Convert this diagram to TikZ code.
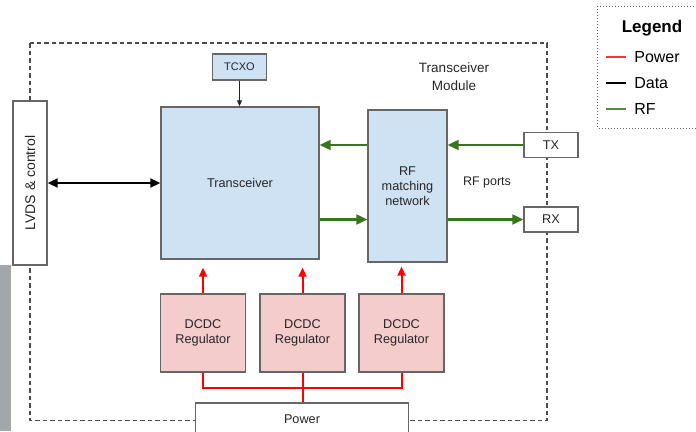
\documentclass[tikz,border=0pt]{standalone}
\usepackage{fontspec}
\setmainfont{Liberation Sans}
\usepackage{graphicx}
\usetikzlibrary{arrows.meta}
\definecolor{bleu}{HTML}{CFE2F3}
\definecolor{rose}{HTML}{F4CCCC}
\definecolor{bord}{HTML}{666666}
\definecolor{vert}{HTML}{38761D}
\definecolor{barre}{HTML}{A3A6AA}
\begin{document}
\begin{tikzpicture}[x=1pt, y=-1pt,
	bloc/.style={draw=bord, line width=1.4pt, inner sep=0pt, align=center, text=black!85,
		font=\fontsize{12.7}{15}\selectfont},
	regul/.style={bloc, fill=rose, minimum width=85, minimum height=78},
	port/.style={bloc, fill=white, minimum width=54, minimum height=25},
	alim/.style={draw=red, line width=2pt, -{Triangle[length=9pt, width=8pt]}},
	rf/.style={draw=vert, line width=2.2pt, -{Triangle[length=11pt, width=10pt]}},
	txt/.style={text=black!85, align=center, font=\fontsize{12.5}{15}\selectfont}]
	\useasboundingbox (0,0) rectangle (696,431);
	\clip (0,0) rectangle (696,431);
	\fill[barre] (0,265) rectangle (10.5,431);
	% cadre du module
	\draw[black!70, line width=1.2pt, dash pattern=on 4.5pt off 3pt] (30,43) rectangle (547,420.5);
	\node[txt, font=\fontsize{13.5}{18}\selectfont] (module) at (454,77) {Transceiver\\Module};
	% blocs
	\node[bloc, fill=bleu, minimum width=54, minimum height=26, font=\fontsize{11}{13}\selectfont] (tcxo) at (239.5,67) {TCXO};
	\node[bloc, fill=bleu, minimum width=158, minimum height=152] (xcvr) at (240,183) {Transceiver};
	\node[bloc, fill=bleu, minimum width=79, minimum height=152] (rfm) at (407.5,186) {RF\\matching\\network};
	\node[bloc, fill=white, minimum width=34, minimum height=164, font=\fontsize{14}{16}\selectfont] (lvds) at (30,183) {\rotatebox{90}{LVDS \& control}};
	\node[port] (tx) at (551,145) {TX};
	\node[port] (rx) at (551,219.5) {RX};
	\node[txt] (ports) at (487,182) {RF ports};
	\node[regul] (reg1) at (203,333) {DCDC\\Regulator};
	\node[regul] (reg2) at (302.5,333) {DCDC\\Regulator};
	\node[regul] (reg3) at (401.5,333) {DCDC\\Regulator};
	\node[bloc, fill=white, minimum width=213, minimum height=32] (pwr) at (302,419) {Power};
	% liaisons
	\draw[black, line width=2pt, {Triangle[length=10pt, width=9pt]}-{Triangle[length=10pt, width=9pt]}] (lvds.east) -- (xcvr.west);
	\draw[black!85, line width=0.9pt, -{Triangle[length=6pt, width=5pt]}] (tcxo.south) -- (tcxo.south |- xcvr.north);
	\draw[rf] (rfm.west |- tx) -- (xcvr.east |- tx);
	\draw[rf] (xcvr.east |- rx) -- (rfm.west |- rx);
	\draw[rf] (tx.west) -- (rfm.east |- tx);
	\draw[rf] (rfm.east |- rx) -- (rx.west);
	\draw[alim, shorten >=8pt] (reg1.north) -- (reg1.north |- xcvr.south);
	\draw[alim, shorten >=8pt] (reg2.north) -- (reg2.north |- xcvr.south);
	\draw[alim, shorten >=4pt] (reg3.north) -- (reg3.north |- rfm.south);
	\draw[red, line width=2pt] (reg1.south) -- ++(0,15.5) -| (reg3.south);
	\draw[red, line width=2pt] (reg2.south) -- (reg2.south |- pwr.north);
	%légende
	\draw[black!60, line width=1pt, dash pattern=on 1pt off 2pt] (597.5,6) rectangle (705,128);
	\node[font=\bfseries\fontsize{17}{20}\selectfont] (leg) at (652,28) {Legend};
	\coordinate (l1) at (606,57);
	\coordinate (l2) at (606,83);
	\coordinate (l3) at (606,109);
	\draw[red!80, line width=2pt] (l1) -- ++(20,0) node[right=4pt, black, font=\fontsize{16}{18}\selectfont] {Power};
	\draw[black, line width=2pt] (l2) -- ++(20,0) node[right=4pt, black, font=\fontsize{16}{18}\selectfont] {Data};
	\draw[vert!85, line width=2pt] (l3) -- ++(20,0) node[right=4pt, black, font=\fontsize{16}{18}\selectfont] {RF};
\end{tikzpicture}
\end{document}
